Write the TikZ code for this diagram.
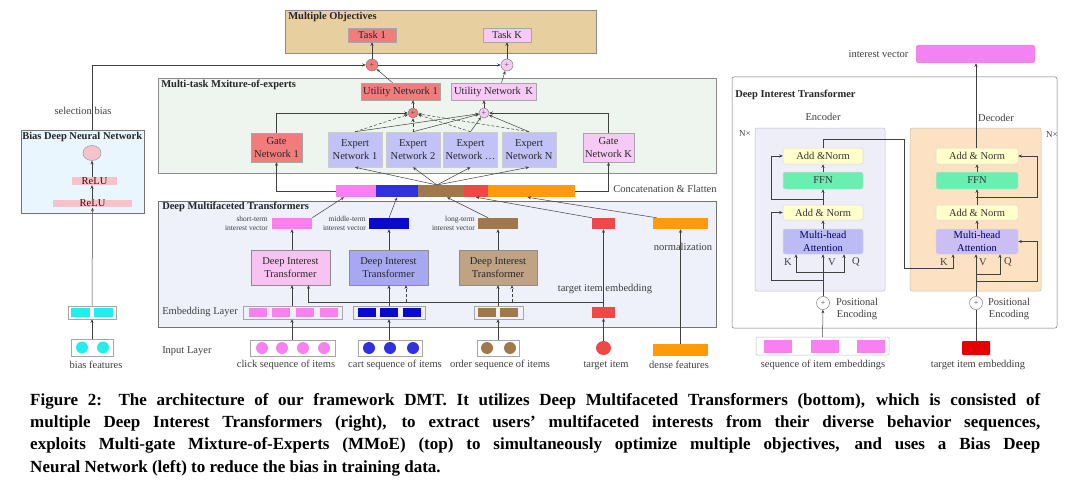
\documentclass[tikz,border=0pt]{standalone}
\usepackage{fontspec}
\setmainfont{Liberation Serif}
\newfontfamily\capfont{Liberation Serif}
\usetikzlibrary{arrows.meta,shapes.geometric}
\newcommand\fsz[2]{\fontsize{#1}{#2}\selectfont}
\definecolor{objbg}{HTML}{E8CFA0}\definecolor{salm}{HTML}{F07C7C}\definecolor{lpnk}{HTML}{F7C9F5}
\definecolor{mmoebg}{HTML}{EEF4EE}\definecolor{expc}{HTML}{C2C2F7}\definecolor{dmtbg}{HTML}{EEF0FA}
\definecolor{pnkv}{HTML}{F880F0}\definecolor{bluv}{HTML}{3030E0}\definecolor{dbluv}{HTML}{0A0ACC}
\definecolor{brnv}{HTML}{A0784C}\definecolor{redv}{HTML}{F04848}\definecolor{orgv}{HTML}{FF9A0A}
\definecolor{dita}{HTML}{F9C3F1}\definecolor{ditb}{HTML}{A8A8F2}\definecolor{ditc}{HTML}{C0A285}
\definecolor{cyn}{HTML}{22EEEE}\definecolor{biasbg}{HTML}{EAF6FD}\definecolor{relu}{HTML}{F7C3CB}
\definecolor{encbg}{HTML}{EDEEF8}\definecolor{decbg}{HTML}{FCE2C2}\definecolor{anc}{HTML}{FFFFCC}
\definecolor{ffnc}{HTML}{6AEFB0}\definecolor{mhac}{HTML}{BCBCF5}\definecolor{dmhac}{HTML}{CABEF2}
\definecolor{ivc}{HTML}{F383F3}\definecolor{tgtr}{HTML}{E60000}
\begin{document}
\begin{tikzpicture}[x=1pt,y=-1pt,line width=.5pt,color=black!75,>={Stealth[length=3.5pt,width=3pt]},
  font=\fsz{10.5}{12.5},
  sz/.style 2 args={minimum width=#1,minimum height=#2},
  blk/.style={draw=black!35,inner sep=0pt,align=center,text=black!85},
  pl/.style={circle,draw=black!50,inner sep=0pt,minimum size=12,font=\fsz{8}{8}},
  ttl/.style={anchor=west,inner sep=0pt,font=\bfseries\fsz{10.5}{12},text=black!85},
  sml/.style={anchor=east,align=right,inner sep=0pt,font=\fsz{7.5}{9}},
  tb/.style={draw=black!15,rounded corners=2,inner sep=0pt,align=center,text=black!80}]
\fill[white] (0,0) rectangle (1080,495);
\useasboundingbox (0,0) rectangle (1080,495);
% multiple objectives
\draw[draw=black!45,fill=objbg] (285,10) rectangle (596,53);
\node[ttl] (objt) at (288,17) {Multiple Objectives};
\node[blk,fill=salm,sz={48}{14}] (task1) at (372,35) {Task 1};
\node[blk,fill=lpnk,sz={48}{14}] (taskK) at (507,35) {Task K};
\node[pl,fill=salm] (plus1) at (372,65) {+};\node[pl,fill=lpnk] (plusK) at (507,65) {+};
\draw[->] (plus1) -- (task1);\draw[->] (plusK) -- (taskK);
% bias deep neural network
\draw[draw=black!55,fill=biasbg] (21,130) rectangle (144,213);
\node[ttl] (biast) at (22,137) {Bias Deep Neural Network};
\node[ellipse,draw=black!40,fill=relu,sz={18}{15},inner sep=0] (bout) at (92,153) {};
\fill[relu] (72,177) rectangle (117,185);\node[inner sep=.5pt,text=black!70!red] (relu1) at (94.5,181) {ReLU};
\fill[relu] (53,200) rectangle (132,207);\node[inner sep=.5pt,text=black!70!red] (relu2) at (92.5,203.5) {ReLU};
\draw[->] (relu2.north -| bout) -- (relu1.south -| bout);\draw[->] (relu1.north -| bout) -- (bout);
\coordinate (bt) at (92,130);
\draw[->] (bt) |- (plus1);\draw[->] (plus1) -- (plusK);
\node (selb) at (83,111) {selection bias};
\node[blk,sz={48}{13}] (bemb) at (92,312.5) {};
\foreach \x[count=\i] in {80.5,103.5} \node[fill=cyn,sz={19}{9},inner sep=0] (be\i) at (\x,312.5) {};
\node[blk,sz={42}{17}] (bin) at (92,347.5) {};
\foreach \x[count=\i] in {82,103} \node[circle,fill=cyn,minimum size=12,inner sep=0] (bc\i) at (\x,347.5) {};
\node (bfl) at (96,365) {bias features};
\draw[->] (bin) -- (bemb);\draw[->] (bemb) -- (relu2);
% MMoE
\draw[draw=black!45,fill=mmoebg] (158,78) rectangle (716,173);
\node[ttl] (mmoet) at (161,85) {Multi-task Mxiture-of-experts};
\node[blk,fill=salm,sz={79}{17}] (util1) at (400.5,91.5) {Utility Network 1};
\node[blk,fill=lpnk,sz={85}{17}] (utilK) at (493.5,91.5) {Utility Network\, K};
\node[pl,fill=salm,minimum size=10] (uplus1) at (413,113) {+};\node[pl,fill=lpnk,minimum size=10] (uplusK) at (484,113) {+};
\node[blk,fill=salm,sz={51}{29}] (gate1) at (276.5,147.5) {Gate\\Network 1};
\node[blk,fill=lpnk,sz={51}{29}] (gateK) at (608.5,147.5) {Gate\\Network K};
\foreach \x/\t[count=\i] in {355/1,413/2,470.5/{\dots},529/N}
  \node[blk,draw=black!20,fill=expc,sz={54}{35}] (e\i) at (\x,149.5) {Expert\\Network \t};
\draw[->] ([xshift=-8pt]util1.north) -- (plus1);\draw[->] ([xshift=8pt]utilK.north) -- (plusK);
\draw[->] (uplus1) -- (uplus1 |- util1.south);\draw[->] (uplusK) -- (uplusK |- utilK.south);
\draw[->] (gate1.north) |- (uplus1);\draw[->] (gateK.north) |- (uplusK);
\foreach \i in {1,...,4} {\draw[->,densely dashed] (e\i.north) -- (uplus1);\draw[->] (e\i.north) -- (uplusK);}
% concatenation bar
\node[fill=pnkv,sz={40}{12},inner sep=0] (cpk) at (356,191) {};
\node[fill=bluv,sz={42}{12},inner sep=0] (cbl) at (397,191) {};
\node[fill=brnv,sz={46}{12},inner sep=0] (cbr) at (441,191) {};
\node[fill=redv,sz={24}{12},inner sep=0] (crd) at (476,191) {};
\node[fill=orgv,sz={87}{12},inner sep=0] (cor) at (531.5,191) {};
\coordinate (chub) at (437,185);
\foreach \i in {1,...,4} \draw[->] (chub) -- (e\i.south);
\draw[->] (cpk.west) -| (gate1.south);\draw[->] (cor.east) -| (gateK.south);
\node (catl) at (665,189) {Concatenation \& Flatten};
% deep multifaceted transformers
\draw[draw=black!55,fill=dmtbg] (158,201) rectangle (716,327);
\node[ttl] (dmtt) at (162,207) {Deep Multifaceted Transformers};
\node[fill=pnkv,sz={40}{11},inner sep=0] (stv) at (292,223.5) {};
\node[fill=dbluv,sz={40}{11},inner sep=0] (mtv) at (389,223.5) {};
\node[fill=brnv,sz={40}{11},inner sep=0] (ltv) at (498,223.5) {};
\node[fill=redv,sz={23}{11},inner sep=0] (tev) at (603.5,223.5) {};
\node[fill=orgv,sz={55}{11},inner sep=0] (nrm) at (680.5,223.5) {};
\node[sml] (stl) at (268,223.5) {short-term\\interest vector};
\node[sml] (mtl) at (366,223.5) {middle-term\\interest vector};
\node[sml] (ltl) at (475,223.5) {long-term\\interest vector};
\node (nrml) at (683,247) {normalization};
\draw[->] (stv.north east) -- ([xshift=-12pt]cpk.south);\draw[->] (mtv.north) -- (cbl.south);
\draw[->] ([xshift=-10pt]ltv.north) -- ([xshift=6pt]cbr.south);\draw[->] (tev.north west) -- (crd.south);
\draw[->] ([xshift=-24pt]nrm.north) -- ([xshift=-4pt]cor.south);
\node[blk,draw=black!45,fill=dita,sz={79}{35}] (dit1) at (290.5,267.5) {Deep Interest\\Transformer};
\node[blk,draw=black!45,fill=ditb,sz={79}{35}] (dit2) at (388.5,267.5) {Deep Interest\\Transformer};
\node[blk,draw=black!45,fill=ditc,sz={78}{35}] (dit3) at (498,267.5) {Deep Interest\\Transformer};
\draw[->] (stv |- dit1.north) -- (stv.south);\draw[->] (mtv |- dit2.north) -- (mtv.south);\draw[->] (ltv |- dit3.north) -- (ltv.south);
\node[anchor=west,inner sep=0] (embl) at (162,312) {Embedding Layer};
\node[blk,sz={99}{13}] (emb1) at (292.5,312.5) {};
\foreach \x[count=\i] in {258,281,305,329} \node[fill=pnkv,sz={18}{9},inner sep=0] (ea\i) at (\x,312.5) {};
\node[blk,sz={72}{13}] (emb2) at (389,312.5) {};
\foreach \x[count=\i] in {366.5,389,411.5} \node[fill=dbluv,sz={18}{9},inner sep=0] (eb\i) at (\x,312.5) {};
\node[blk,sz={49}{13}] (emb3) at (498.5,312.5) {};
\foreach \x[count=\i] in {486.5,509} \node[fill=brnv,sz={18}{9},inner sep=0] (ec\i) at (\x,312.5) {};
\node[fill=redv,sz={23}{11},inner sep=0] (temb) at (603.5,312.5) {};
\draw[->] (stv |- emb1.north) -- (stv |- dit1.south);\draw[->] (mtv |- emb2.north) -- (mtv |- dit2.south);
\draw[->] (ltv |- emb3.north) -- (ltv |- dit3.south);\draw[->] (temb) -- (tev);
\coordinate (tj) at (603.5,302);
\draw[->] (tj) -| ([xshift=18pt]dit1.south);
\draw[->,densely dashed] ([xshift=17.5pt]dit2.south |- tj) -- ([xshift=17.5pt]dit2.south);
\draw[->,densely dashed] ([xshift=14pt]dit3.south |- tj) -- ([xshift=14pt]dit3.south);
\node (teml) at (605,289) {target item embedding};
% input layer
\node[anchor=west,inner sep=0] (inl) at (162,351) {Input Layer};
\node[blk,sz={85}{16}] (in1) at (292.5,348) {};
\foreach \x[count=\i] in {262,282,303,324} \node[circle,fill=pnkv,minimum size=12,inner sep=0] (ia\i) at (\x,348) {};
\node[blk,sz={64}{16}] (in2) at (390,348) {};
\foreach \x[count=\i] in {369,390,413} \node[circle,fill=bluv,minimum size=12,inner sep=0] (ib\i) at (\x,348) {};
\node[blk,sz={42}{16}] (in3) at (498,348) {};
\foreach \x[count=\i] in {487,510} \node[circle,fill=brnv,minimum size=12,inner sep=0] (ic\i) at (\x,348) {};
\node[ellipse,fill=redv,sz={15}{14},inner sep=0] (tgt) at (603.5,348) {};
\node[fill=orgv,sz={55}{12},inner sep=0] (dns) at (680.5,350) {};
\draw[->] (stv |- in1.north) -- (stv |- emb1.south);\draw[->] (mtv |- in2.north) -- (mtv |- emb2.south);
\draw[->] (ltv |- in3.north) -- (ltv |- emb3.south);\draw[->] (tgt) -- (temb);\draw[->] (dns) -- (nrm);
\node (cll) at (286,365) {click sequence of items};\node (crl) at (395,365) {cart sequence of items};
\node (orl) at (500,365) {order sequence of items};\node (tgl) at (606,365) {target item};
\node (dnl) at (679,365) {dense features};
% deep interest transformer
\draw[draw=black!55,rounded corners=2] (732,77) rectangle (1057,328);
\node[ttl] (ditt) at (735,95) {Deep Interest Transformer};
\node[anchor=east] (ivl) at (912,54) {interest vector};
\node[fill=ivc,rounded corners=2,sz={119}{18},inner sep=0] (ivec) at (975.5,54) {};
\draw[draw=black!25,fill=encbg,rounded corners=2] (755,128) rectangle (885,291);
\draw[draw=black!25,fill=decbg,rounded corners=2] (910,128) rectangle (1041,291);
\node (encl) at (823,117) {Encoder};\node (decl) at (996,118) {Decoder};
\node[font=\fsz{9}{10}] (nx1) at (745,134) {N×};\node[font=\fsz{9}{10}] (nx2) at (1052,135) {N×};
\node[tb,fill=anc,sz={80}{16}] (ean1) at (823,156) {Add \&Norm};
\node[tb,fill=ffnc,sz={80}{17}] (effn) at (823,180.5) {FFN};
\node[tb,fill=anc,sz={80}{15}] (ean2) at (823,212.5) {Add \& Norm};
\node[tb,fill=mhac,sz={80}{25},text=black!60!blue] (emha) at (823,241.5) {Multi-head\\Attention};
\node[tb,fill=anc,sz={82}{16}] (dan1) at (977,156) {Add \& Norm};
\node[tb,fill=ffnc,sz={82}{17}] (dffn) at (977,180.5) {FFN};
\node[tb,fill=anc,sz={82}{15}] (dan2) at (977,212.5) {Add \& Norm};
\node[tb,fill=dmhac,sz={82}{25},text=black!60!blue] (dmha) at (977,241.5) {Multi-head\\Attention};
\node (ek) at (788,262) {K};\node (ev) at (832,262) {V};\node (eq) at (856,262) {Q};
\node (dk) at (944,262) {K};\node (dv) at (983,262) {V};\node (dq) at (1008,262) {Q};
\node[pl,fill=white,minimum size=13] (epe) at (823,303) {+};\node[pl,fill=white,minimum size=13] (dpe) at (976,303) {+};
\node[align=center,inner sep=0] (epl) at (857,309) {Positional\\Encoding};
\node[align=center,inner sep=0] (dpl) at (1009,309) {Positional\\Encoding};
\node[draw=black!25,rounded corners=1,sz={133}{18},inner sep=0] (seqe) at (822.5,346) {};
\foreach \x[count=\i] in {778,824.5,871} \node[fill=pnkv,sz={28}{13},inner sep=0] (sq\i) at (\x,346) {};
\node[fill=tgtr,rounded corners=1,sz={28}{14},inner sep=0] (tgte) at (976,348) {};
\node (sqel) at (823,365) {sequence of item embeddings};\node (tgel) at (978,365) {target item embedding};
% encoder wiring
\draw[->] (seqe) -- (epe);\draw[->] (epe) -- (emha);
\coordinate (ebr) at (823,272);\coordinate (er1) at (823,280);\coordinate (er2) at (823,199);
\draw[->] (ebr) -| ([xshift=-27pt]emha.south);\draw[->] (ebr) -| ([xshift=21pt]emha.south);
\draw[->] (er1) -- ++(-52,0) |- (ean2.west);\draw[->] (er2) -- ++(-52,0) |- (ean1.west);
\draw[->] (emha) -- (ean2);\draw[->] (ean2) -- (effn);\draw[->] (effn) -- (ean1);
\coordinate (eo1) at (904,139);\coordinate (eo2) at (953,268);
\draw[->] (ean1.north) |- (eo1) |- (eo2) -- (eo2 |- dmha.south);
% decoder wiring
\draw (tgte) -- (dpe);\draw[->] (dpe.north) -- (dpe.north |- dmha.south);
\coordinate (dbr) at (976,274);\coordinate (dr1) at (976,281);\coordinate (dr2) at (976,197);
\draw[->] (dbr) -| ([xshift=23pt]dmha.south);
\draw[->] (dr1) -- ++(61,0) |- (dmha.east);\draw[->] (dr2) -- ++(61,0) |- (dan1.east);
\draw[->] (dmha) -- (dan2);\draw[->] (dan2) -- (dffn);\draw[->] (dffn) -- (dan1);
\draw[->] (dan1.north -| dpe) -- (dpe |- ivec.south);
% caption
\node[anchor=north west,text width=1010pt,align=justify,inner sep=0,text=black,font=\capfont\bfseries\fsz{17}{22.3}] (cap) at (30,393)
 {Figure 2: The architecture of our framework DMT. It utilizes Deep Multifaceted Transformers (bottom), which is consisted of\linebreak
 multiple Deep Interest Transformers (right), to extract users’ multifaceted interests from their diverse behavior sequences,\linebreak
 exploits Multi-gate Mixture-of-Experts (MMoE) (top) to simultaneously optimize multiple objectives, and uses a Bias Deep\linebreak
 Neural Network (left) to reduce the bias in training data.};
\end{tikzpicture}
\end{document}
